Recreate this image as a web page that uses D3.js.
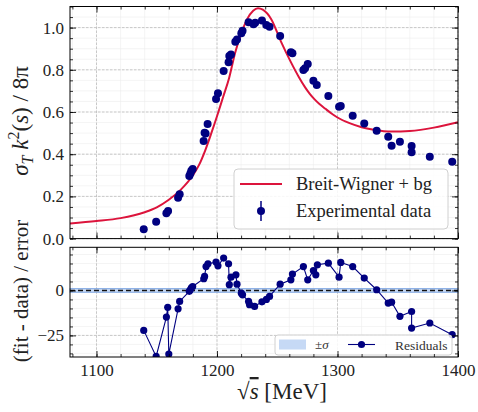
<!DOCTYPE html>
<html>
<head>
<meta charset="utf-8">
<script src="https://cdn.jsdelivr.net/npm/d3@7"></script>
<style>
  body { margin: 0; background: #fff; }
  svg text { font-family: "Liberation Serif", "DejaVu Serif", serif; }
</style>
</head>
<body>
<svg id="chart" width="478" height="412"></svg>
<script>
// fitted curve
const fitX = [1078, 1100, 1120, 1140, 1150, 1160, 1170, 1180, 1185, 1190, 1195, 1200, 1205, 1210, 1215, 1220, 1225, 1230, 1234, 1238, 1245, 1253, 1261, 1268, 1273, 1277, 1281, 1285, 1290, 1295, 1300, 1310, 1320, 1330, 1345, 1360, 1380, 1400]
const fitY = [0.072, 0.083, 0.097, 0.125, 0.148, 0.184, 0.232, 0.300, 0.348, 0.415, 0.495, 0.580, 0.670, 0.760, 0.880, 0.970, 1.040, 1.080, 1.092, 1.085, 1.040, 0.935, 0.840, 0.765, 0.718, 0.686, 0.660, 0.638, 0.615, 0.593, 0.574, 0.547, 0.528, 0.516, 0.507, 0.510, 0.526, 0.552]

// experimental points
const expX = [1139.2, 1149.5, 1158.0, 1159.4, 1167.7, 1169.0, 1177.0, 1177.9, 1178.7, 1179.8, 1188.9, 1189.7, 1190.5, 1192.2, 1199.2, 1200.8, 1205.5, 1209.6, 1210.2, 1211.6, 1215.2, 1216.6, 1220.2, 1221.2, 1226.2, 1230.3, 1231.7, 1237.3, 1240.9, 1243.6, 1252.4, 1261.3, 1262.6, 1271.7, 1273.1, 1275.3, 1280.0, 1282.8, 1292.4, 1301.3, 1302.7, 1312.6, 1322.2, 1332.5, 1342.1, 1344.9, 1351.8, 1361.5, 1361.5, 1376.6, 1395.2]
const expY = [0.044, 0.080, 0.120, 0.131, 0.194, 0.210, 0.297, 0.309, 0.322, 0.330, 0.463, 0.502, 0.498, 0.543, 0.662, 0.689, 0.794, 0.836, 0.865, 0.873, 0.933, 0.944, 0.973, 0.985, 1.025, 1.016, 1.023, 1.034, 1.012, 1.004, 0.960, 0.883, 0.878, 0.799, 0.807, 0.827, 0.748, 0.728, 0.676, 0.625, 0.628, 0.582, 0.546, 0.511, 0.483, 0.440, 0.459, 0.439, 0.409, 0.388, 0.364]
const expErr = [0.004, 0.004, 0.005, 0.005, 0.006, 0.006, 0.008, 0.008, 0.008, 0.008, 0.01, 0.01, 0.01, 0.01, 0.012, 0.012, 0.012, 0.012, 0.012, 0.012, 0.012, 0.012, 0.012, 0.012, 0.012, 0.012, 0.012, 0.012, 0.012, 0.012, 0.012, 0.012, 0.012, 0.012, 0.018, 0.02, 0.012, 0.012, 0.012, 0.012, 0.012, 0.01, 0.01, 0.01, 0.01, 0.01, 0.01, 0.01, 0.01, 0.008, 0.008]

// residuals (fit - data) / error
const resX = [1139.2, 1149.5, 1158.0, 1159.1, 1160.0, 1167.7, 1169.0, 1177.0, 1177.8, 1178.7, 1179.8, 1189.0, 1189.7, 1190.9, 1192.5, 1199.2, 1200.8, 1205.5, 1209.6, 1210.2, 1211.6, 1215.7, 1216.6, 1220.2, 1221.2, 1226.2, 1227.0, 1231.2, 1237.3, 1241.0, 1243.6, 1252.4, 1261.3, 1262.6, 1271.7, 1275.3, 1280.0, 1282.0, 1283.3, 1292.4, 1301.3, 1302.7, 1312.6, 1322.2, 1332.5, 1342.1, 1344.9, 1351.8, 1361.5, 1361.5, 1376.6, 1395.2]
const resY = [-22.2, -36.7, -14.8, -9.4, -35.4, -10.2, -6.1, -0.5, 0.4, 1.5, 2.2, 6.5, 7.8, 13.3, 14.8, 15.8, 13.7, 18.0, 14.8, 3.2, 7.4, 8.7, 3.5, -1.5, -2.4, -6.1, -7.9, -8.9, -6.3, -5.0, -3.3, 3.5, 5.9, 9.1, 13.3, 5.9, 11.1, 8.7, 14.3, 15.2, 7.4, 15.6, 13.3, 6.9, 0.4, -7.0, -6.5, -14.4, -11.7, -20.9, -18.1, -24.6]

const xMajor = [1100, 1200, 1300, 1400]
const topMajor = [0.0, 0.2, 0.4, 0.6, 0.8, 1.0]
const botMajor = [-25, 0]

const navy = '#000080'
const crimson = '#dc143c'

const svg = d3.select('#chart')

const left = 70, right = 458
const top1 = 6.5, bot1 = 238.6
const top2 = 247.3, bot2 = 357

const x = d3.scaleLinear().domain([1078, 1400]).range([left, right])
const y1 = d3.scaleLinear().domain([0, 1.1]).range([bot1, top1])
const y2 = d3.scaleLinear().domain([-37, 24]).range([bot2, top2])

const xMinor = d3.range(1080, 1401, 20)

function panel(y, yMajor, yMinor, yt, yb) {
    const g = svg.append('g')

    // minor grid
    g.selectAll('.vminor').data(xMinor).join('line')
        .attr('x1', d => x(d)).attr('x2', d => x(d))
        .attr('y1', yt).attr('y2', yb)
        .attr('stroke', '#ececec').attr('stroke-width', 0.6)
    g.selectAll('.hminor').data(yMinor).join('line')
        .attr('x1', left).attr('x2', right)
        .attr('y1', d => y(d)).attr('y2', d => y(d))
        .attr('stroke', '#ececec').attr('stroke-width', 0.6)
    // major grid
    g.selectAll('.vmajor').data(xMajor).join('line')
        .attr('x1', d => x(d)).attr('x2', d => x(d))
        .attr('y1', yt).attr('y2', yb)
        .attr('stroke', '#bdbdbd').attr('stroke-width', 0.8)
        .attr('stroke-dasharray', '2.5 1.5')
    g.selectAll('.hmajor').data(yMajor).join('line')
        .attr('x1', left).attr('x2', right)
        .attr('y1', d => y(d)).attr('y2', d => y(d))
        .attr('stroke', '#bdbdbd').attr('stroke-width', 0.8)
        .attr('stroke-dasharray', '2.5 1.5')
    return g
}

function frame(y, yMajor, yMinor, yt, yb, fmt, showX) {
    const g = svg.append('g')
    const ax = [
        [d3.axisLeft, `translate(${left},0)`, fmt],
        [d3.axisRight, `translate(${right},0)`, null],
    ]
    ax.forEach(([mk, tr, f]) => {
        g.append('g').attr('transform', tr)
            .call(mk(y).tickValues(yMinor).tickSize(-3).tickFormat(''))
        const m = g.append('g').attr('transform', tr)
            .call(mk(y).tickValues(yMajor).tickSize(-6).tickPadding(6).tickFormat(f || ''))
        m.selectAll('text').attr('font-size', 17).attr('fill', '#222')
    })
    g.append('g').attr('transform', `translate(0,${yb})`)
        .call(d3.axisBottom(x).tickValues(xMinor).tickSize(-3).tickFormat(''))
    const xb = g.append('g').attr('transform', `translate(0,${yb})`)
        .call(d3.axisBottom(x).tickValues(xMajor).tickSize(-6).tickPadding(7).tickFormat(showX ? d3.format('d') : ''))
    xb.selectAll('text').attr('font-size', 17).attr('fill', '#222')
    g.append('g').attr('transform', `translate(0,${yt})`)
        .call(d3.axisTop(x).tickValues(xMinor).tickSize(-3).tickFormat(''))
    g.append('g').attr('transform', `translate(0,${yt})`)
        .call(d3.axisTop(x).tickValues(xMajor).tickSize(-6).tickFormat(''))
    g.selectAll('.domain').remove()
    g.selectAll('.tick line').attr('stroke', '#000').attr('stroke-width', 0.8)
    g.append('rect')
        .attr('x', left).attr('y', yt)
        .attr('width', right - left).attr('height', yb - yt)
        .attr('fill', 'none').attr('stroke', '#000').attr('stroke-width', 1)
    return g
}

// ---------- top panel ----------
const topMinor = d3.range(0, 1.101, 0.05)
panel(y1, topMajor, topMinor, top1, bot1)

const clip1 = svg.append('clipPath').attr('id', 'c1')
clip1.append('rect').attr('x', left).attr('y', top1).attr('width', right - left).attr('height', bot1 - top1)

const fitLine = d3.line()
    .x((d, i) => x(fitX[i]))
    .y(d => y1(d))
    .curve(d3.curveMonotoneX)

svg.append('path')
    .datum(fitY)
    .attr('clip-path', 'url(#c1)')
    .attr('d', fitLine)
    .attr('fill', 'none')
    .attr('stroke', crimson)
    .attr('stroke-width', 2)

const pts = svg.append('g').attr('clip-path', 'url(#c1)')
pts.selectAll('line').data(expY).join('line')
    .attr('x1', (d, i) => x(expX[i])).attr('x2', (d, i) => x(expX[i]))
    .attr('y1', (d, i) => y1(d - expErr[i])).attr('y2', (d, i) => y1(d + expErr[i]))
    .attr('stroke', navy).attr('stroke-width', 1.5)
pts.selectAll('circle').data(expY).join('circle')
    .attr('cx', (d, i) => x(expX[i]))
    .attr('cy', d => y1(d))
    .attr('r', 4)
    .attr('fill', navy)

frame(y1, topMajor, topMinor, top1, bot1, d3.format('.1f'), false)

// legend (top)
const lg = svg.append('g')
lg.append('rect')
    .attr('x', 234).attr('y', 169).attr('width', 214).attr('height', 60)
    .attr('rx', 4)
    .attr('fill', 'white').attr('fill-opacity', 0.85)
    .attr('stroke', '#d0d0d0').attr('stroke-width', 1)
lg.append('line')
    .attr('x1', 240).attr('x2', 282).attr('y1', 184).attr('y2', 184)
    .attr('stroke', crimson).attr('stroke-width', 2)
lg.append('line')
    .attr('x1', 261).attr('x2', 261).attr('y1', 201).attr('y2', 221)
    .attr('stroke', navy).attr('stroke-width', 1.5)
lg.append('circle').attr('cx', 261).attr('cy', 211).attr('r', 4).attr('fill', navy)
lg.append('text').attr('x', 296).attr('y', 190)
    .attr('font-size', 18.5).attr('fill', '#222').text('Breit-Wigner + bg')
lg.append('text').attr('x', 296).attr('y', 217)
    .attr('font-size', 18.5).attr('fill', '#222').text('Experimental data')

// ---------- bottom panel ----------
const botMinor = d3.range(-35, 24, 5)
panel(y2, botMajor, botMinor, top2, bot2)

// +-sigma band and zero line
svg.append('rect')
    .attr('x', left).attr('width', right - left)
    .attr('y', y2(1)).attr('height', y2(-1) - y2(1))
    .attr('fill', '#c6d9f5')
    .attr('stroke', '#6f9be0').attr('stroke-width', 0.8)
svg.append('line')
    .attr('x1', left).attr('x2', right)
    .attr('y1', y2(0)).attr('y2', y2(0))
    .attr('stroke', '#111').attr('stroke-width', 1.6)
    .attr('stroke-dasharray', '5 3')

const clip2 = svg.append('clipPath').attr('id', 'c2')
clip2.append('rect').attr('x', left).attr('y', top2).attr('width', right - left).attr('height', bot2 - top2)

const resLine = d3.line()
    .x((d, i) => x(resX[i]))
    .y(d => y2(d))

const rg = svg.append('g').attr('clip-path', 'url(#c2)')
rg.append('path')
    .datum(resY)
    .attr('d', resLine)
    .attr('fill', 'none')
    .attr('stroke', navy)
    .attr('stroke-width', 1.1)
rg.selectAll('circle').data(resY).join('circle')
    .attr('cx', (d, i) => x(resX[i]))
    .attr('cy', d => y2(d))
    .attr('r', 3.6)
    .attr('fill', navy)

// legend (bottom)
const lb = svg.append('g')
lb.append('rect')
    .attr('x', 275).attr('y', 335).attr('width', 177).attr('height', 20)
    .attr('rx', 3)
    .attr('fill', 'white').attr('fill-opacity', 0.85)
    .attr('stroke', '#d0d0d0').attr('stroke-width', 1)
lb.append('rect')
    .attr('x', 279).attr('y', 339.5).attr('width', 27).attr('height', 10)
    .attr('fill', '#c6d9f5')
lb.append('text').attr('x', 315).attr('y', 349)
    .attr('font-size', 13).attr('fill', '#333')
    .text('±').append('tspan').attr('font-style', 'italic').text('σ')
lb.append('line')
    .attr('x1', 348).attr('x2', 375).attr('y1', 344.5).attr('y2', 344.5)
    .attr('stroke', navy).attr('stroke-width', 1.1)
lb.append('circle').attr('cx', 361.5).attr('cy', 344.5).attr('r', 3.6).attr('fill', navy)
lb.append('text').attr('x', 395).attr('y', 349.5)
    .attr('font-size', 13.5).attr('fill', '#333').text('Residuals')

frame(y2, botMajor, botMinor, top2, bot2, d => d < 0 ? '\u2212' + Math.abs(d) : String(d), true)

// ---------- axis labels ----------
const xl = svg.append('text')
    .attr('x', 282).attr('y', 399)
    .attr('text-anchor', 'middle')
    .attr('font-size', 23).attr('fill', '#222')
xl.append('tspan').text('√')
xl.append('tspan').attr('font-style', 'italic').attr('text-decoration', 'overline').text('s')
xl.append('tspan').text(' [MeV]')

const yl = svg.append('text')
    .attr('transform', 'translate(28,121) rotate(-90)')
    .attr('text-anchor', 'middle')
    .attr('font-size', 23).attr('fill', '#222')
yl.append('tspan').attr('font-style', 'italic').text('σ')
yl.append('tspan').attr('font-style', 'italic').attr('font-size', 16).attr('dy', 5).text('T')
yl.append('tspan').attr('font-style', 'italic').attr('dy', -5).text(' k')
yl.append('tspan').attr('font-size', 16).attr('dy', -9).text('2')
yl.append('tspan').attr('dy', 9).text('(')
yl.append('tspan').attr('font-style', 'italic').text('s')
yl.append('tspan').text(') / 8π')

svg.append('text')
    .attr('transform', 'translate(28,291) rotate(-90)')
    .attr('text-anchor', 'middle')
    .attr('font-size', 21).attr('fill', '#222')
    .text('(fit - data) / error')
</script>
</body>
</html>
